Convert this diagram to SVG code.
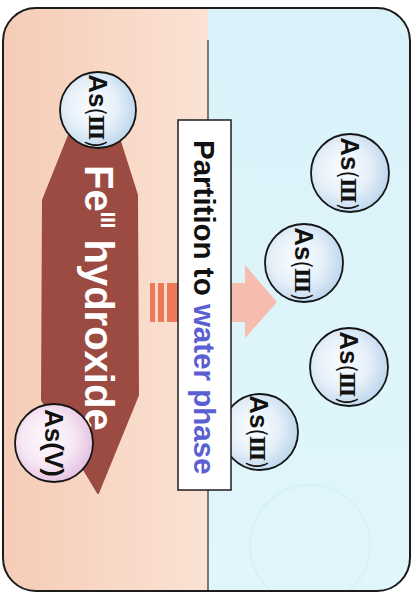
<svg xmlns="http://www.w3.org/2000/svg" width="413" height="596" viewBox="0 0 413 596">
  <defs>
    <linearGradient id="peach" x1="0" y1="0" x2="1" y2="0">
      <stop offset="0" stop-color="#f5ccb6"/>
      <stop offset="1" stop-color="#fbe2d4"/>
    </linearGradient>
    <linearGradient id="water" x1="0" y1="0" x2="0" y2="1">
      <stop offset="0" stop-color="#d9f2f9"/>
      <stop offset="1" stop-color="#e0f6fb"/>
    </linearGradient>
    <radialGradient id="ballBlue" cx="0.42" cy="0.45" r="0.6">
      <stop offset="0" stop-color="#fbfdff"/>
      <stop offset="0.55" stop-color="#e6f0f9"/>
      <stop offset="1" stop-color="#bcd5ec"/>
    </radialGradient>
    <radialGradient id="ballPink" cx="0.42" cy="0.45" r="0.6">
      <stop offset="0" stop-color="#fffafd"/>
      <stop offset="0.55" stop-color="#f7e8f4"/>
      <stop offset="1" stop-color="#e3bfe0"/>
    </radialGradient>
    <clipPath id="frame">
      <rect x="3" y="8" width="407" height="583" rx="33"/>
    </clipPath>
  </defs>
  <style>
    .ball { stroke: #151515; stroke-width: 1.8; }
    .blue { fill: url(#ballBlue); }
    .pink { fill: url(#ballPink); }
    .as { font-family: "Liberation Sans", Arial, sans-serif; font-weight: bold; font-size: 26px; fill: #111; }
    .par { font-family: "Noto Sans CJK JP", "Noto Sans", sans-serif; font-weight: normal; font-size: 22px; }
    .rn { font-family: "DejaVu Serif", "Liberation Serif", serif; font-weight: bold; font-size: 21px; }
    .label { font-family: "Liberation Sans", Arial, sans-serif; font-weight: bold; font-size: 29.5px; fill: #111; }
    .fe { font-family: "Liberation Sans", Arial, sans-serif; font-weight: bold; font-size: 40px; fill: #ffffff; }
  </style>

  <!-- two phases: solid (left) and water (right) -->
  <g clip-path="url(#frame)">
    <rect x="0" y="0" width="208" height="596" fill="url(#peach)"/>
    <rect x="208" y="0" width="205" height="596" fill="url(#water)"/>
    <circle cx="310" cy="545" r="60" fill="none" stroke="#d2ebf2" stroke-width="2" opacity="0.5"/>
  </g>
  <line x1="208" y1="40" x2="208" y2="120" stroke="#3a3a3a" stroke-width="1.3"/>
  <line x1="208" y1="490" x2="208" y2="590" stroke="#3a3a3a" stroke-width="1.3"/>
  <rect x="3" y="8" width="407" height="583" rx="33" fill="none" stroke="#1c1c1c" stroke-width="2"/>

  <!-- iron hydroxide particle -->
  <g id="fe-hydroxide">
    <path d="M69,135 L118,135 L137,195 L138,395 L98,493 L42,400 L43,200 Z" fill="#9c4b42" stroke="#9c4b42" stroke-width="2" stroke-linejoin="round"/>
    <text class="fe" transform="translate(85,165) rotate(90)">Fe<tspan font-size="20" dy="-16">III</tspan><tspan dy="16"> hydroxide</tspan></text>
  </g>

  <!-- arsenic species -->
  <g id="as3-sorbed">
    <circle class="ball blue" cx="98" cy="110" r="38"/>
    <text class="as" text-anchor="middle" transform="translate(98,111) rotate(90)" y="9">As<tspan class="par">(</tspan><tspan class="rn">Ⅲ</tspan><tspan class="par">)</tspan></text>
  </g>
  <g id="as5-sorbed">
    <circle class="ball pink" cx="54" cy="443" r="39"/>
    <text class="as" text-anchor="middle" transform="translate(54,443) rotate(90)" y="9">As(V)</text>
  </g>
  <g id="as3-water-1">
    <circle class="ball blue" cx="350" cy="173" r="39"/>
    <text class="as" text-anchor="middle" transform="translate(350,174) rotate(90)" y="9">As<tspan class="par">(</tspan><tspan class="rn">Ⅲ</tspan><tspan class="par">)</tspan></text>
  </g>
  <g id="as3-water-2">
    <circle class="ball blue" cx="304" cy="263" r="39"/>
    <text class="as" text-anchor="middle" transform="translate(304,264) rotate(90)" y="9">As<tspan class="par">(</tspan><tspan class="rn">Ⅲ</tspan><tspan class="par">)</tspan></text>
  </g>
  <g id="as3-water-3">
    <circle class="ball blue" cx="349" cy="367" r="39"/>
    <text class="as" text-anchor="middle" transform="translate(349,368) rotate(90)" y="9">As<tspan class="par">(</tspan><tspan class="rn">Ⅲ</tspan><tspan class="par">)</tspan></text>
  </g>
  <g id="as3-water-4">
    <circle class="ball blue" cx="260" cy="432" r="38"/>
    <text class="as" text-anchor="middle" transform="translate(259,432) rotate(90)" y="9">As<tspan class="par">(</tspan><tspan class="rn">Ⅲ</tspan><tspan class="par">)</tspan></text>
  </g>

  <!-- release arrow from solid to water -->
  <g id="connectors">
    <rect x="150" y="283" width="5" height="39" fill="#ef7858"/>
    <rect x="158" y="283" width="6" height="39" fill="#ef7858"/>
    <rect x="167" y="283" width="11" height="39" fill="#ef7858"/>
    <path d="M231,283 L245,283 L245,265 L277,302 L245,338 L245,322 L231,322 Z" fill="#f6bcad"/>
  </g>

  <!-- process label -->
  <g id="partition-label">
    <rect x="178" y="120" width="53" height="370" fill="#ffffff" stroke="#1c1c1c" stroke-width="1.5"/>
    <text class="label" transform="translate(194,140) rotate(90)">Partition to <tspan fill="#5a60d2">water phase</tspan></text>
  </g>
</svg>
